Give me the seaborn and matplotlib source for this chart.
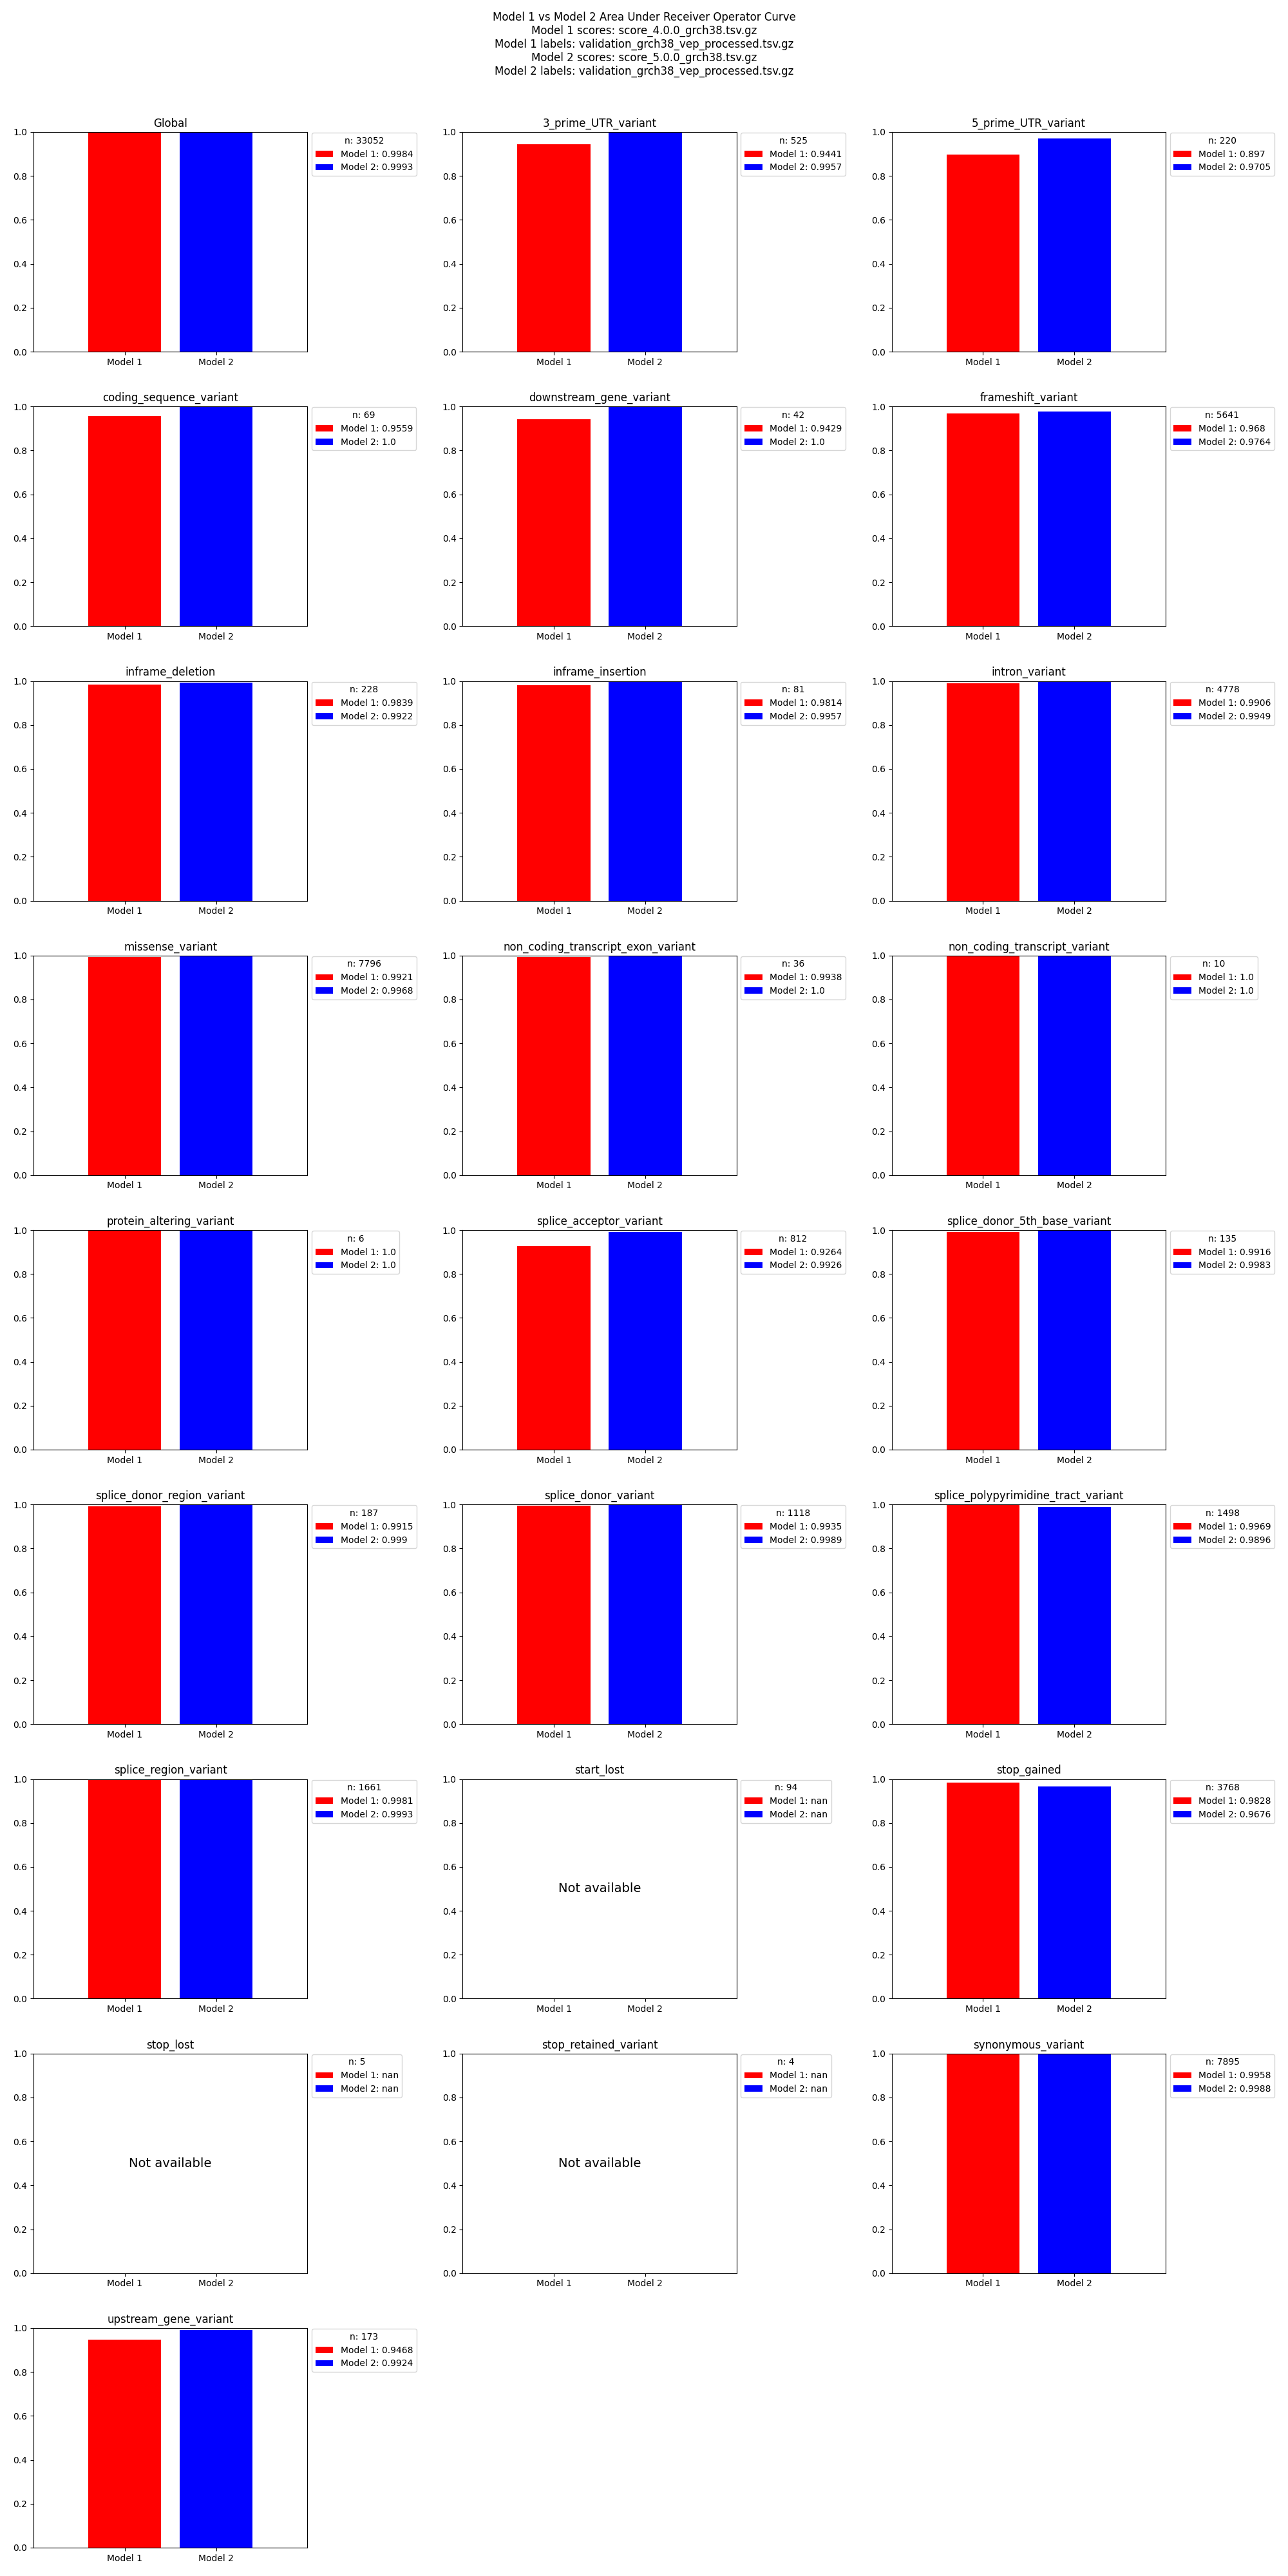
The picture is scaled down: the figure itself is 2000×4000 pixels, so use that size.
import numpy as np
import matplotlib
matplotlib.use("Agg")
import matplotlib.pyplot as plt
from matplotlib.patches import Patch
import seaborn as sns

nan = float("nan")

categories = [
    "Global", "3_prime_UTR_variant", "5_prime_UTR_variant",
    "coding_sequence_variant", "downstream_gene_variant", "frameshift_variant",
    "inframe_deletion", "inframe_insertion", "intron_variant",
    "missense_variant", "non_coding_transcript_exon_variant", "non_coding_transcript_variant",
    "protein_altering_variant", "splice_acceptor_variant", "splice_donor_5th_base_variant",
    "splice_donor_region_variant", "splice_donor_variant", "splice_polypyrimidine_tract_variant",
    "splice_region_variant", "start_lost", "stop_gained",
    "stop_lost", "stop_retained_variant", "synonymous_variant",
    "upstream_gene_variant",
]
counts = [33052, 525, 220, 69, 42, 5641, 228, 81, 4778, 7796, 36, 10, 6, 812,
          135, 187, 1118, 1498, 1661, 94, 3768, 5, 4, 7895, 173]
model1_auc = [0.9984, 0.9441, 0.897, 0.9559, 0.9429, 0.968, 0.9839, 0.9814, 0.9906,
              0.9921, 0.9938, 1.0, 1.0, 0.9264, 0.9916, 0.9915, 0.9935, 0.9969,
              0.9981, nan, 0.9828, nan, nan, 0.9958, 0.9468]
model2_auc = [0.9993, 0.9957, 0.9705, 1.0, 1.0, 0.9764, 0.9922, 0.9957, 0.9949,
              0.9968, 1.0, 1.0, 1.0, 0.9926, 0.9983, 0.999, 0.9989, 0.9896,
              0.9993, nan, 0.9676, nan, nan, 0.9988, 0.9924]
models = ["Model 1", "Model 2"]
colors = ["red", "blue"]

suptitle = ("Model 1 vs Model 2 Area Under Receiver Operator Curve\n"
            "Model 1 scores: score_4.0.0_grch38.tsv.gz\n"
            "Model 1 labels: validation_grch38_vep_processed.tsv.gz\n"
            "Model 2 scores: score_5.0.0_grch38.tsv.gz\n"
            "Model 2 labels: validation_grch38_vep_processed.tsv.gz")

plt.rcParams["font.family"] = ["DejaVu Sans"]
fig, axes = plt.subplots(9, 3, figsize=(20, 40), dpi=100)
fig.subplots_adjust(left=0.026, right=0.905, top=0.94875, bottom=0.011,
                    wspace=0.567, hspace=0.25)

for i, ax in enumerate(axes.flat):
    if i >= len(categories):
        ax.remove()
        continue
    v1, v2 = model1_auc[i], model2_auc[i]
    if np.isnan(v1) or np.isnan(v2):
        ax.set_xticks([0, 1])
        ax.set_xticklabels(models)
        ax.text(0.5, 0.5, "Not available", ha="center", va="center",
                fontsize=14, transform=ax.transAxes)
    else:
        sns.barplot(x=models, y=[v1, v2], hue=models, order=models,
                    palette=colors, saturation=1, legend=False,
                    width=0.8, linewidth=0, ax=ax)
    ax.set_xlim(-1, 2)
    ax.set_ylim(0, 1)
    ax.set_xlabel("")
    ax.set_ylabel("")
    ax.set_title(categories[i], fontsize=12)
    handles = [Patch(facecolor=c) for c in colors]
    labels = [f"Model 1: {v1}", f"Model 2: {v2}"]
    ax.legend(handles, labels, title=f"n: {counts[i]}", loc="upper left",
              bbox_to_anchor=(1.016, 0.997), borderaxespad=0, fontsize=10,
              title_fontsize=10)

fig.suptitle(suptitle, fontsize=12, y=0.9955, va="top")
fig.savefig("out.png", dpi=100)
